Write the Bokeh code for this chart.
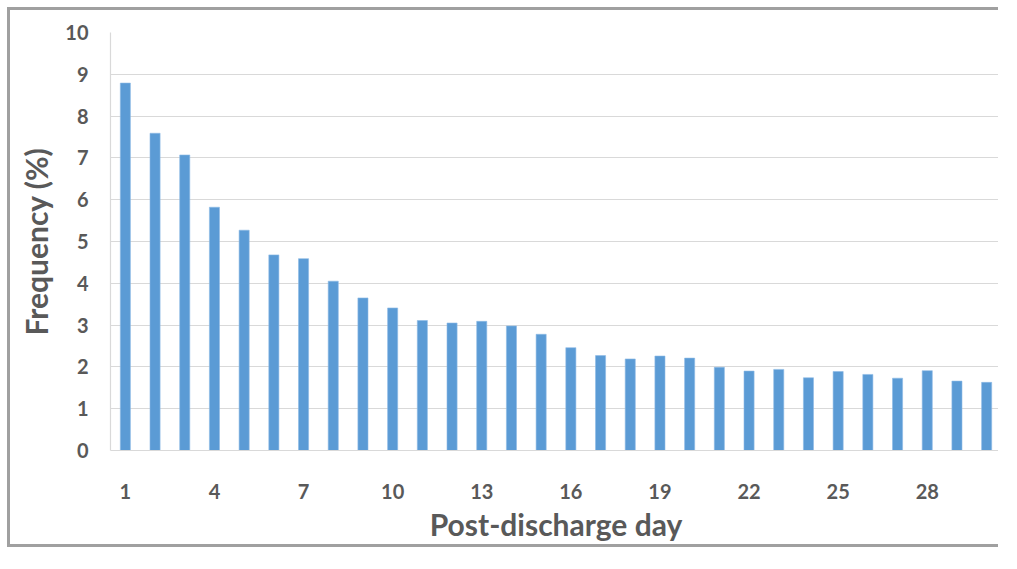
from bokeh.plotting import figure
from bokeh.layouts import column
from bokeh.models import FixedTicker, ColumnDataSource
from bokeh.embed import file_html
from bokeh.resources import INLINE

days = list(range(1, 31))
frequency = [8.79, 7.59, 7.07, 5.82, 5.27, 4.68, 4.59, 4.05, 3.65, 3.41,
             3.11, 3.05, 3.09, 2.98, 2.78, 2.46, 2.27, 2.19, 2.26, 2.21,
             1.99, 1.90, 1.94, 1.74, 1.89, 1.82, 1.73, 1.91, 1.66, 1.63]
x_ticks = [1, 4, 7, 10, 13, 16, 19, 22, 25, 28]
y_ticks = list(range(0, 11))

FONT = "Lato"
TXT = "#595959"

src = ColumnDataSource(dict(day=days, freq=frequency))

p = figure(width=991, height=540, output_backend="svg", toolbar_location=None,
           x_range=(0.5, 30.5), y_range=(0, 10),
           min_border_left=100, min_border_right=0, min_border_top=22, min_border_bottom=100)
p.margin = (7, 0, 0, 7)
p.styles = {"border-left": "3px solid #A0A0A0", "border-top": "3px solid #A0A0A0",
            "border-bottom": "3px solid #A0A0A0", "border-right": "none"}
p.vbar(x="day", top="freq", width=0.34, source=src,
       fill_color="#5B9BD5", line_color="#8DBBE6", line_width=0.6)

p.outline_line_color = None
p.xgrid.grid_line_color = None
p.ygrid.grid_line_color = "#D9D9D9"
p.ygrid.grid_line_width = 1.2

p.xaxis.ticker = FixedTicker(ticks=x_ticks)
p.yaxis.ticker = FixedTicker(ticks=y_ticks)
for ax in (p.xaxis, p.yaxis):
    ax.major_tick_line_color = None
    ax.minor_tick_line_color = None
    ax.major_tick_out = 0
    ax.major_tick_in = 0
    ax.minor_tick_out = 0
    ax.minor_tick_in = 0
    ax.axis_line_color = "#D9D9D9"
    ax.axis_line_width = 1.2
    ax.major_label_text_font = FONT
    ax.major_label_text_font_style = "bold"
    ax.major_label_text_font_size = "20px"
    ax.major_label_text_color = TXT
    ax.axis_label_text_font = FONT
    ax.axis_label_text_font_style = "bold"
    ax.axis_label_text_font_size = "30px"
    ax.axis_label_text_color = TXT

p.xaxis.major_label_standoff = 33
p.yaxis.major_label_standoff = 22
p.xaxis.axis_label = "Post-discharge day"
p.yaxis.axis_label = "Frequency (%)"
p.xaxis.axis_label_standoff = 4
p.yaxis.axis_label_standoff = 8

layout = column(p)
open("out.html", "w").write(file_html(layout, INLINE))
